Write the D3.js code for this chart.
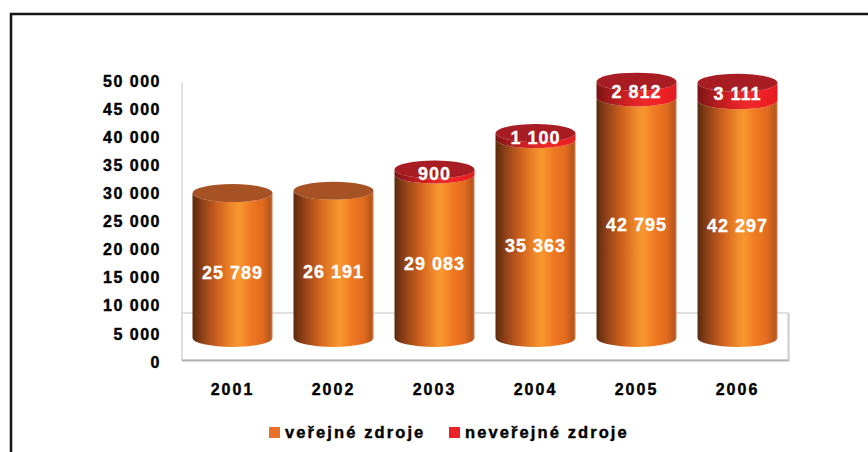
<!DOCTYPE html>
<html>
<head>
<meta charset="utf-8">
<script src="https://cdn.jsdelivr.net/npm/d3@7"></script>
<style>
  body { margin: 0; background: #fff; }
  svg text { font-family: "Liberation Sans", Arial, sans-serif; font-weight: bold; }
</style>
</head>
<body>
<div id="chart"></div>
<script>
// data
const years = ["2001", "2002", "2003", "2004", "2005", "2006"];
const publicFunds = [25789, 26191, 29083, 35363, 42795, 42297];
const privateFunds = [0, 0, 900, 1100, 2812, 3111];
const tickValues = [0, 5000, 10000, 15000, 20000, 25000, 30000, 35000, 40000, 45000, 50000];
const legendLabels = ["veřejné zdroje", "neveřejné zdroje"];

const width = 868, height = 452;
const fmt = v => d3.format(",")(v).replace(/,/g, " ");

const svg = d3.select("#chart").append("svg")
    .attr("width", width)
    .attr("height", height);

const defs = svg.append("defs");
function hGradient(id, stops) {
    const g = defs.append("linearGradient").attr("id", id)
        .attr("x1", "0%").attr("x2", "100%").attr("y1", "0%").attr("y2", "0%");
    stops.forEach(s => g.append("stop").attr("offset", s[0]).attr("stop-color", s[1]));
}
hGradient("gOrange", [["0%", "#5a2a0e"], ["12%", "#8e4018"], ["32%", "#d0621e"], ["50%", "#f08a2a"], ["58%", "#f8982f"], ["72%", "#f07a22"], ["88%", "#e06a1e"], ["97%", "#b8561c"], ["100%", "#c87a4a"]]);
hGradient("gRed", [["0%", "#7a1414"], ["15%", "#a21a1c"], ["40%", "#d42024"], ["60%", "#ec2a2a"], ["85%", "#ee2024"], ["100%", "#e01c20"]]);

// frame
svg.append("path")
    .attr("d", "M11,452 L11,14 L868,14")
    .attr("fill", "none")
    .attr("stroke", "#151515")
    .attr("stroke-width", 2.5);

// scales
const x = d3.scaleBand().domain(years).range([182, 788]).paddingInner(0.208).paddingOuter(0.104);
const yAxisScale = d3.scaleLinear().domain([0, 50000]).range([362, 81]);
const yCyl = d3.scaleLinear().domain([0, 50000]).range([338, 57]);

// floor and wall
svg.append("line").attr("x1", 182).attr("x2", 182).attr("y1", 82).attr("y2", 360)
    .attr("stroke", "#d8d8d8").attr("stroke-width", 1.5);
svg.append("rect").attr("x", 182).attr("y", 313).attr("width", 606).attr("height", 47)
    .attr("fill", "#fff").attr("stroke", "#d8d8d8").attr("stroke-width", 1.5);
svg.append("line").attr("x1", 182).attr("x2", 789).attr("y1", 360.5).attr("y2", 360.5)
    .attr("stroke", "#b4b4b4").attr("stroke-width", 2);
svg.append("line").attr("x1", 789).attr("x2", 789).attr("y1", 313).attr("y2", 361)
    .attr("stroke", "#cfcfcf").attr("stroke-width", 1.5);

// axis
const axis = svg.append("g")
    .attr("transform", "translate(163,0)")
    .call(d3.axisLeft(yAxisScale).tickValues(tickValues).tickSize(0).tickPadding(2).tickFormat(fmt));
axis.select(".domain").remove();
axis.selectAll("text")
    .attr("fill", "#000")
    .attr("stroke", "#000")
    .attr("stroke-width", 0.4)
    .style("font-size", "16px")
    .style("letter-spacing", "1.5px")
    .style("font-family", "'Liberation Sans', Arial, sans-serif");

// cylinders
const rx = x.bandwidth() / 2, ry = 9;
function sidePath(cx, yTop, yBot) {
    const x0 = cx - rx, x1 = cx + rx;
    return `M${x0},${yTop} L${x0},${yBot} A${rx},${ry} 0 0 0 ${x1},${yBot} L${x1},${yTop} A${rx},${ry} 0 0 1 ${x0},${yTop} Z`;
}

const stacks = years.map((yr, i) => ({
    year: yr,
    pub: publicFunds[i],
    priv: privateFunds[i]
}));

const cyl = svg.selectAll(".cyl").data(stacks).enter().append("g").attr("class", "cyl");

cyl.append("path")
    .attr("d", d => sidePath(x(d.year) + rx, yCyl(d.pub), yCyl(0)))
    .attr("fill", "url(#gOrange)");

cyl.filter(d => d.priv > 0).append("path")
    .attr("d", d => sidePath(x(d.year) + rx, yCyl(d.pub + d.priv), yCyl(d.pub)))
    .attr("fill", "url(#gRed)");

cyl.append("ellipse")
    .attr("cx", d => x(d.year) + rx)
    .attr("cy", d => yCyl(d.pub + d.priv))
    .attr("rx", rx)
    .attr("ry", ry)
    .attr("fill", d => d.priv > 0 ? "#a81c24" : "#a65224");

// value labels
cyl.append("text")
    .attr("x", d => x(d.year) + rx)
    .attr("y", d => (yCyl(0) + yCyl(d.pub)) / 2 + 7)
    .attr("dy", "0.35em")
    .attr("text-anchor", "middle")
    .attr("fill", "#fff")
    .attr("stroke", "#fff")
    .attr("stroke-width", 0.3)
    .style("font-size", "18px")
    .style("letter-spacing", "1px")
    .text(d => fmt(d.pub));

cyl.filter(d => d.priv > 0).append("text")
    .attr("x", d => x(d.year) + rx)
    .attr("y", d => (yCyl(d.pub) + yCyl(d.pub + d.priv)) / 2 + 2)
    .attr("dy", "0.35em")
    .attr("text-anchor", "middle")
    .attr("fill", "#fff")
    .attr("stroke", "#fff")
    .attr("stroke-width", 0.3)
    .style("font-size", "18px")
    .style("letter-spacing", "1px")
    .text(d => fmt(d.priv));

// year labels
svg.selectAll(".year").data(years).enter().append("text")
    .attr("class", "year")
    .attr("x", d => x(d) + rx)
    .attr("y", 389)
    .attr("dy", "0.35em")
    .attr("text-anchor", "middle")
    .attr("stroke", "#000")
    .attr("stroke-width", 0.4)
    .style("font-size", "16px")
    .style("letter-spacing", "2px")
    .text(d => d);

// legend
const legendColors = ["#e8702a", "#ee2028"];
const legendX = [269, 449];
const legend = svg.selectAll(".legend").data(legendLabels).enter().append("g")
    .attr("class", "legend")
    .attr("transform", (d, i) => `translate(${legendX[i]},427)`);
legend.append("rect").attr("width", 11).attr("height", 11).attr("fill", (d, i) => legendColors[i]);
legend.append("text")
    .attr("x", 16)
    .attr("y", 5.5)
    .attr("dy", "0.35em")
    .attr("stroke", "#000")
    .attr("stroke-width", 0.4)
    .style("font-size", "16.5px")
    .style("letter-spacing", "2.1px")
    .text(d => d);
</script>
</body>
</html>
